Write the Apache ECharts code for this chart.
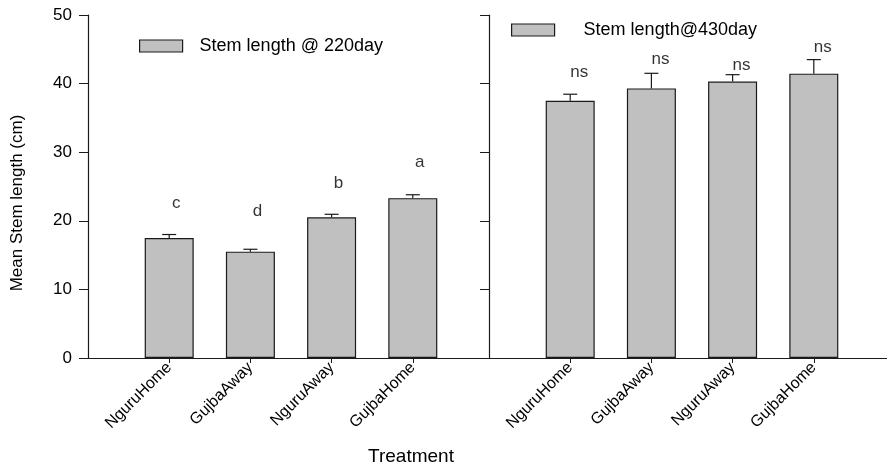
<!DOCTYPE html>
<html>
<head>
<meta charset="utf-8">
<script src="https://cdn.jsdelivr.net/npm/echarts@6/dist/echarts.min.js"></script>
<style>
html,body{margin:0;padding:0;background:#fff;}
#chart{width:887px;height:472px;}
</style>
</head>
<body>
<div id="chart"></div>
<script>
const categories = ['NguruHome', 'GujbaAway', 'NguruAway', 'GujbaHome'];
const day220Mean = [17.5, 15.5, 20.5, 23.3];
const day220Err = [0.5, 0.35, 0.45, 0.5];
const day430Mean = [37.5, 39.3, 40.3, 41.45];
const day430Err = [0.95, 2.2, 1.0, 2.05];
const day220Letters = ['c', 'd', 'b', 'a'];
const day220LetterY = [22.6, 21.35, 25.4, 28.5];
const day430Letters = ['ns', 'ns', 'ns', 'ns'];
const day430LetterY = [41.6, 43.5, 42.7, 45.3];
const yMin = 0, yMax = 50, yInterval = 10;
const name220 = 'Stem length @ 220day';
const name430 = 'Stem length@430day';

const FONT = '"Liberation Sans", Arial, sans-serif';
const INK = '#1a1a1a';
const axisCats = [''].concat(categories, ['']);
const pad = arr => ['-'].concat(arr, ['-']);

function xAxisFor(gi) {
  return {
    type: 'category', gridIndex: gi, data: axisCats, boundaryGap: false,
    axisLine: { show: true, lineStyle: { color: INK, width: 1.2 } },
    axisTick: { show: true, length: 5, inside: false, interval: i => i >= 1 && i <= 4, lineStyle: { color: INK } },
    axisLabel: { show: true, rotate: 45, margin: 7, interval: 0, color: '#000', fontFamily: FONT, fontSize: 16 },
    splitLine: { show: false }
  };
}
function yAxisFor(gi, labels) {
  return {
    type: 'value', gridIndex: gi, min: yMin, max: yMax, interval: yInterval,
    axisLine: { show: true, onZero: false, lineStyle: { color: INK, width: 1.2 } },
    axisTick: { show: true, length: 9, inside: false, lineStyle: { color: INK } },
    axisLabel: { show: labels, margin: 16, color: '#000', fontFamily: FONT, fontSize: 17 },
    splitLine: { show: false }
  };
}
function errSeries(gi, means, errs) {
  return {
    type: 'custom', xAxisIndex: gi, yAxisIndex: gi, z: 1,
    data: means.map((m, i) => [i + 1, m, errs[i]]),
    encode: { x: 0, y: 1 },
    renderItem: function (params, api) {
      const c = api.value(0), m = api.value(1), e = api.value(2);
      const p0 = api.coord([c, m]);
      const p1 = api.coord([c, m + e]);
      const hw = 7;
      const st = { stroke: INK, lineWidth: 1.2 };
      return {
        type: 'group', children: [
          { type: 'line', shape: { x1: p0[0], y1: p0[1], x2: p1[0], y2: p1[1] }, style: st },
          { type: 'line', shape: { x1: p1[0] - hw, y1: p1[1], x2: p1[0] + hw, y2: p1[1] }, style: st }
        ]
      };
    }
  };
}
function letterSeries(gi, ys, texts, dx) {
  return {
    type: 'scatter', xAxisIndex: gi, yAxisIndex: gi, symbolSize: 0.1,
    itemStyle: { color: 'rgba(0,0,0,0)' }, silent: true,
    data: pad(ys),
    label: {
      show: true, position: 'inside', offset: [dx, 0], color: '#000', fontFamily: FONT, fontSize: 17,
      formatter: p => texts[p.dataIndex - 1] || ''
    }
  };
}
const barStyle = { color: '#c0c0c0', borderColor: INK, borderWidth: 1.2 };

const option = {
  animation: false,
  backgroundColor: '#fff',
  textStyle: { fontFamily: FONT },
  grid: [
    { left: 88, top: 15, width: 406, height: 343, outerBoundsMode: 'none', containLabel: false },
    { left: 489, top: 15, width: 406, height: 343, outerBoundsMode: 'none', containLabel: false }
  ],
  xAxis: [xAxisFor(0), xAxisFor(1)],
  yAxis: [yAxisFor(0, true), yAxisFor(1, false)],
  legend: [
    {
      data: [name220], left: 134, top: 32, itemWidth: 43, itemHeight: 12, icon: 'rect',
      itemStyle: barStyle,
      textStyle: { fontSize: 18, color: '#000', fontFamily: FONT, padding: [0, 0, 0, 12] }
    },
    {
      data: [name430], left: 506, top: 16, itemWidth: 43, itemHeight: 12, icon: 'rect',
      itemStyle: barStyle,
      textStyle: { fontSize: 18, color: '#000', fontFamily: FONT, padding: [0, 0, 0, 24] }
    }
  ],
  graphic: [
    { type: 'text', x: 17, y: 203, rotation: Math.PI / 2,
      style: { text: 'Mean Stem length (cm)', fill: '#000', font: '17px ' + FONT, textAlign: 'center', textVerticalAlign: 'middle' } },
    { type: 'text', x: 411, y: 457,
      style: { text: 'Treatment', fill: '#000', font: '19px ' + FONT, textAlign: 'center', textVerticalAlign: 'middle' } }
  ],
  series: [
    { name: name220, type: 'bar', xAxisIndex: 0, yAxisIndex: 0, barWidth: 49, data: pad(day220Mean), itemStyle: barStyle, z: 2 },
    { name: name430, type: 'bar', xAxisIndex: 1, yAxisIndex: 1, barWidth: 49, data: pad(day430Mean), itemStyle: barStyle, z: 2 },
    errSeries(0, day220Mean, day220Err),
    errSeries(1, day430Mean, day430Err),
    letterSeries(0, day220LetterY, day220Letters, 7),
    letterSeries(1, day430LetterY, day430Letters, 9)
  ]
};
const chart = echarts.init(document.getElementById('chart'), null, { renderer: 'canvas' });
chart.setOption(option);
</script>
</body>
</html>
